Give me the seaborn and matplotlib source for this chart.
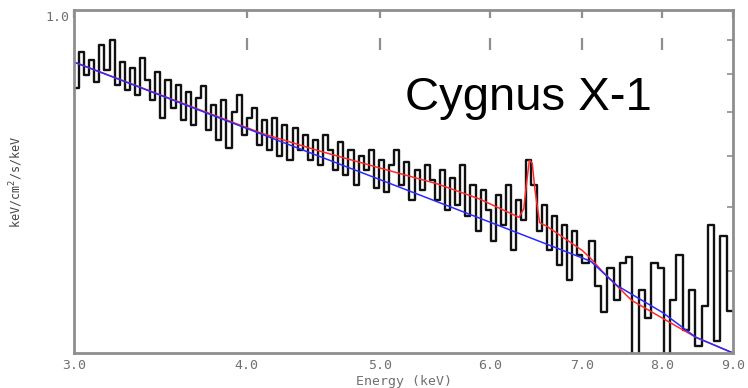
import numpy as np
import pandas as pd
import matplotlib
matplotlib.use("Agg")
import matplotlib.pyplot as plt
import matplotlib.transforms as mtransforms
import seaborn as sns
from matplotlib.ticker import NullLocator, FixedLocator, NullFormatter

# ---- spectrum: binned counts (keV/cm^2/s/keV) ----
# 3-7 keV: 100 logarithmic bins; 7-9 keV: 24 logarithmic bins
edges_low = np.geomspace(3.0, 7.0, 101)
edges_high = np.geomspace(7.0, 9.0, 25)[1:]

flux_low = [
    0.760, 0.863, 0.796, 0.839, 0.776, 0.884, 0.810, 0.900, 0.768, 0.833,
    0.755, 0.816, 0.742, 0.845, 0.782, 0.729, 0.804, 0.684, 0.782, 0.709,
    0.768, 0.679, 0.750, 0.667, 0.734, 0.766, 0.656, 0.716, 0.633, 0.729,
    0.616, 0.699, 0.742, 0.644, 0.684, 0.709, 0.622, 0.679, 0.611, 0.684,
    0.600, 0.667, 0.590, 0.660, 0.611, 0.644, 0.590, 0.633, 0.580, 0.644,
    0.611, 0.570, 0.629, 0.560, 0.611, 0.541, 0.600, 0.570, 0.611, 0.535,
    0.590, 0.527, 0.580, 0.611, 0.541, 0.586, 0.513, 0.570, 0.531, 0.580,
    0.550, 0.513, 0.570, 0.495, 0.554, 0.504, 0.580, 0.486, 0.541, 0.461,
    0.531, 0.495, 0.445, 0.522, 0.470, 0.541, 0.430, 0.513, 0.478, 0.590,
    0.541, 0.461, 0.504, 0.430, 0.486, 0.408, 0.470, 0.387, 0.461, 0.423,
]
flux_high = [
    0.412, 0.445, 0.380, 0.346, 0.404, 0.361, 0.412, 0.420, 0.290, 0.374,
    0.339, 0.412, 0.404, 0.295, 0.361, 0.423, 0.325, 0.374, 0.308, 0.354,
    0.470, 0.313, 0.453, 0.348,
]

# ---- continuum model (power law with iron edge) ----
cont_energy = [3.0, 4.0, 5.0, 6.0, 7.1, 7.42, 8.0, 8.46, 9.0]
cont_flux = [0.833, 0.660, 0.551, 0.475, 0.414, 0.380, 0.346, 0.317, 0.300]

# ---- total model (continuum + reflection + Fe K line) ----
total_energy = [3.0, 4.1, 4.5, 5.0, 5.5, 5.9, 6.3, 6.35, 6.38, 6.41, 6.44,
                6.47, 6.52, 6.6, 7.0, 7.1, 7.25, 7.6, 8.1, 8.46, 9.0]
total_flux = [0.833, 0.649, 0.611, 0.574, 0.543, 0.515, 0.483, 0.498, 0.546,
              0.590, 0.584, 0.531, 0.474, 0.468, 0.430, 0.418, 0.398, 0.361,
              0.334, 0.317, 0.300]

x_ticks = [3.0, 4.0, 5.0, 6.0, 7.0, 8.0, 9.0]
x_tick_labels = ["3.0", "4.0", "5.0", "6.0", "7.0", "8.0", "9.0"]
y_minor = [0.4, 0.5, 0.6, 0.7, 0.8, 0.9]

sns.set_style("white")
plt.rcParams["font.family"] = ["DejaVu Sans Mono", "DejaVu Sans"]

axis_grey = "#8e8e8e"
label_grey = "#707070"

fig = plt.figure(figsize=(7.48, 3.88), dpi=100)
ax = fig.add_axes([74 / 748, 35 / 388, 659 / 748, 343 / 388])

edges = np.concatenate([edges_low, edges_high])
flux = flux_low + flux_high
spec = pd.DataFrame({"energy": edges, "flux": flux + [flux[-1]]})
sns.lineplot(data=spec, x="energy", y="flux", drawstyle="steps-post",
             estimator=None, sort=False, color="#111111", lw=1.7, ax=ax)

sns.lineplot(x=total_energy, y=total_flux, estimator=None, sort=False,
             color="#ff2a2a", lw=1.1, ax=ax)
sns.lineplot(x=cont_energy, y=cont_flux, estimator=None, sort=False,
             color="#2a2aff", lw=1.1, ax=ax)

ax.set_xscale("log")
ax.set_yscale("log")
ax.set_xlim(3.0, 9.0)
ax.set_ylim(0.3, 1.0)

ax.set_xticks(x_ticks)
ax.set_xticklabels(x_tick_labels)
ax.xaxis.set_minor_locator(NullLocator())
ax.set_yticks([1.0])
ax.set_yticklabels(["1.0"])
ax.yaxis.set_minor_locator(FixedLocator(y_minor))
ax.yaxis.set_minor_formatter(NullFormatter())

ax.tick_params(axis="x", which="major", direction="in", length=6, width=1.6,
               color=axis_grey, top=True, labelsize=9.5,
               labelcolor=label_grey, pad=4.5)
ax.tick_params(axis="y", which="major", direction="in", length=4, width=1.2,
               color=axis_grey, labelsize=9.5, labelcolor=label_grey, pad=3)
ax.tick_params(axis="y", which="minor", direction="in", length=4.5, width=1.2,
               color=axis_grey, right=True)

# nudge the "1.0" label slightly below the top edge
shift = mtransforms.ScaledTranslation(0, -4 / 72, fig.dpi_scale_trans)
for lab in ax.get_yticklabels():
    lab.set_transform(lab.get_transform() + shift)

# inner segment of the upper tick marks
ax.vlines(x_ticks[1:-1], 0.883, 0.918, transform=ax.get_xaxis_transform(),
          color=axis_grey, lw=1.6)

for side in ["left", "right", "top", "bottom"]:
    ax.spines[side].set_color(axis_grey)
    ax.spines[side].set_linewidth(2.0)
    ax.spines[side].set_visible(True)

ax.set_xlabel("Energy (keV)", fontsize=9.5, color=label_grey)
ax.xaxis.set_label_coords(0.5, -0.064)
ax.set_ylabel("keV/cm$^2$/s/keV", fontsize=8.5, color="#444444")
ax.yaxis.set_label_coords(-0.087, 0.5)
ax.yaxis.label.set_verticalalignment("center")

ax.text(0.502, 0.708, "Cygnus X-1", transform=ax.transAxes,
        fontsize=34, family=["Liberation Sans", "DejaVu Sans"],
        color="black", ha="left", va="baseline")

fig.savefig("out.png", dpi=100)
